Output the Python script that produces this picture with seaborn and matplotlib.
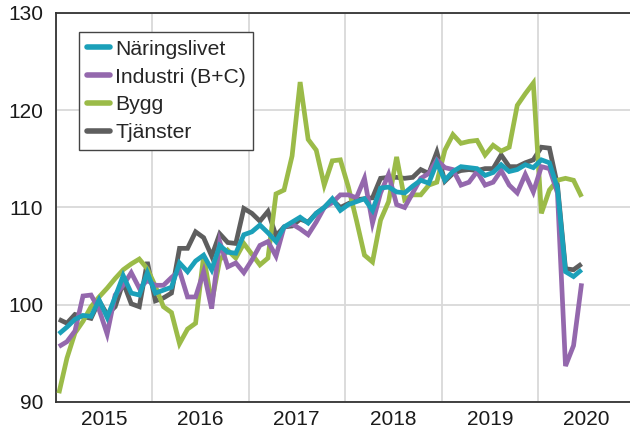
import numpy as np
import pandas as pd
import matplotlib
matplotlib.use("Agg")
import matplotlib.pyplot as plt
import seaborn as sns
from matplotlib.ticker import FixedLocator, NullFormatter, FixedFormatter

# Monthly data Jan 2015 - Jun 2020
start_year = 2015
n_months = 66

naringslivet = [97.0, 97.7, 98.5, 98.9, 98.8, 100.5, 98.7, 100.8, 103.0, 101.2,
                101.0, 103.3, 101.2, 101.5, 101.8, 104.3, 103.4, 104.5, 105.1, 103.6,
                106.1, 105.4, 105.3, 107.2, 107.5, 108.2, 107.4, 106.5, 108.0, 108.5,
                109.0, 108.4, 109.4, 110.0, 110.9, 109.7, 110.3, 110.6, 110.9, 109.7,
                112.0, 112.1, 111.6, 111.5, 112.2, 112.8, 112.5, 114.6, 112.8, 113.7,
                114.2, 114.1, 114.0, 113.3, 113.6, 114.4, 113.7, 113.9, 114.4, 114.1,
                114.9, 114.6, 112.0, 103.4, 102.9, 103.6]

industri = [95.7, 96.2, 97.3, 100.9, 101.0, 99.5, 97.0, 101.0, 102.0, 103.3,
            101.7, 102.5, 102.0, 102.0, 102.8, 103.5, 100.8, 100.8, 103.4, 99.6,
            106.5, 103.9, 104.3, 103.3, 104.6, 106.1, 106.5, 105.0, 108.0, 108.3,
            107.8, 107.2, 108.5, 110.0, 110.5, 111.3, 111.3, 111.0, 113.0, 108.4,
            111.5, 113.4, 110.3, 110.0, 111.5, 113.0, 113.5, 114.9, 114.1, 113.9,
            112.3, 112.6, 113.7, 112.3, 112.6, 113.8, 112.3, 111.5, 113.4, 111.6,
            114.2, 114.0, 111.5, 93.7, 95.8, 102.2]

bygg = [90.9, 94.5, 97.1, 98.3, 99.8, 100.8, 101.7, 102.7, 103.6, 104.2,
        104.7, 103.7, 101.9, 99.8, 99.2, 96.0, 97.5, 98.1, 105.0, 100.2,
        104.6, 105.6, 104.8, 106.3, 105.2, 104.1, 104.8, 111.4, 111.8, 115.3,
        122.9, 117.0, 115.9, 112.3, 114.8, 114.9, 112.1, 108.7, 105.1, 104.4,
        108.7, 110.6, 115.2, 110.8, 111.3, 111.3, 112.3, 112.6, 115.9, 117.5,
        116.6, 116.8, 116.9, 115.4, 116.4, 115.8, 116.2, 120.5, 121.7, 122.8,
        109.4, 111.8, 112.8, 113.0, 112.8, 111.1]

tjanster = [98.5, 98.1, 99.0, 98.8, 98.6, 100.4, 99.0, 99.8, 102.3, 100.1,
            99.8, 104.4, 100.4, 100.7, 101.2, 105.8, 105.8, 107.5, 106.9, 105.0,
            107.3, 106.4, 106.3, 109.9, 109.4, 108.6, 109.6, 107.1, 108.0, 108.1,
            108.8, 108.5, 109.4, 110.0, 110.8, 110.0, 110.4, 110.8, 110.9, 111.0,
            113.0, 113.1, 113.1, 113.0, 113.1, 113.9, 113.5, 115.7, 112.7, 113.5,
            113.8, 113.9, 113.8, 114.0, 114.0, 115.4, 114.2, 114.2, 114.6, 114.9,
            116.2, 116.1, 112.3, 103.7, 103.6, 104.2]

series_names = ["Näringslivet", "Industri (B+C)", "Bygg", "Tjänster"]
series_values = [naringslivet, industri, bygg, tjanster]
colors = ["#1BA0B9", "#9468AD", "#9BBB48", "#5E5E5E"]
year_labels = ["2015", "2016", "2017", "2018", "2019", "2020"]

x = start_year + (np.arange(n_months) + 0.42) / 12.0
frames = []
for name, vals in zip(series_names, series_values):
    frames.append(pd.DataFrame({"x": x, "value": vals, "serie": name}))
df = pd.concat(frames, ignore_index=True)

sns.set_theme(style="white")
plt.rcParams["font.family"] = ["Liberation Sans", "DejaVu Sans"]

fig = plt.figure(figsize=(6.3, 4.33), dpi=100)
ax = fig.add_axes([55.5 / 630, 31 / 433, 579 / 630, 389 / 433])

palette = dict(zip(series_names, colors))
draw_order = ["Tjänster", "Bygg", "Industri (B+C)", "Näringslivet"]
for k, name in enumerate(draw_order):
    sns.lineplot(data=df[df["serie"] == name], x="x", y="value", color=palette[name],
                 linewidth=3.4, ax=ax, label=name, zorder=3 + k,
                 solid_joinstyle="miter", solid_capstyle="butt")

ax.set_xlim(2015, 2021)
ax.set_ylim(90, 130)
ax.set_xlabel("")
ax.set_ylabel("")

ax.xaxis.set_major_locator(FixedLocator(np.arange(2015, 2022)))
ax.xaxis.set_major_formatter(NullFormatter())
ax.xaxis.set_minor_locator(FixedLocator(np.arange(2015, 2021) + 0.5))
ax.xaxis.set_minor_formatter(FixedFormatter(year_labels))
ax.set_yticks([90, 100, 110, 120, 130])
ax.tick_params(axis="both", which="both", length=0, labelsize=15, colors="#1a1a1a")
ax.tick_params(axis="x", which="minor", pad=6)
ax.tick_params(axis="y", pad=9)

ax.grid(True, which="major", color="#d9d9d9", linewidth=1.3)
ax.set_axisbelow(True)

for side in ["left", "bottom", "top"]:
    ax.spines[side].set_visible(True)
    ax.spines[side].set_color("#333333")
    ax.spines[side].set_linewidth(1.3)
ax.spines["right"].set_visible(False)

handles, labels = ax.get_legend_handles_labels()
hmap = dict(zip(labels, handles))
leg = ax.legend([hmap[n] for n in series_names], series_names,
                loc="upper left", bbox_to_anchor=(0.0406, 0.951), borderaxespad=0,
                fontsize=15.2, frameon=True, fancybox=False, framealpha=1,
                edgecolor="#444444", handlelength=1.1, handletextpad=0.25,
                labelspacing=0.42, borderpad=0.36)
leg.get_frame().set_linewidth(1.0)
for line in leg.get_lines():
    line.set_linewidth(4)
    line.set_solid_capstyle("round")

fig.savefig("out.png", dpi=100)
